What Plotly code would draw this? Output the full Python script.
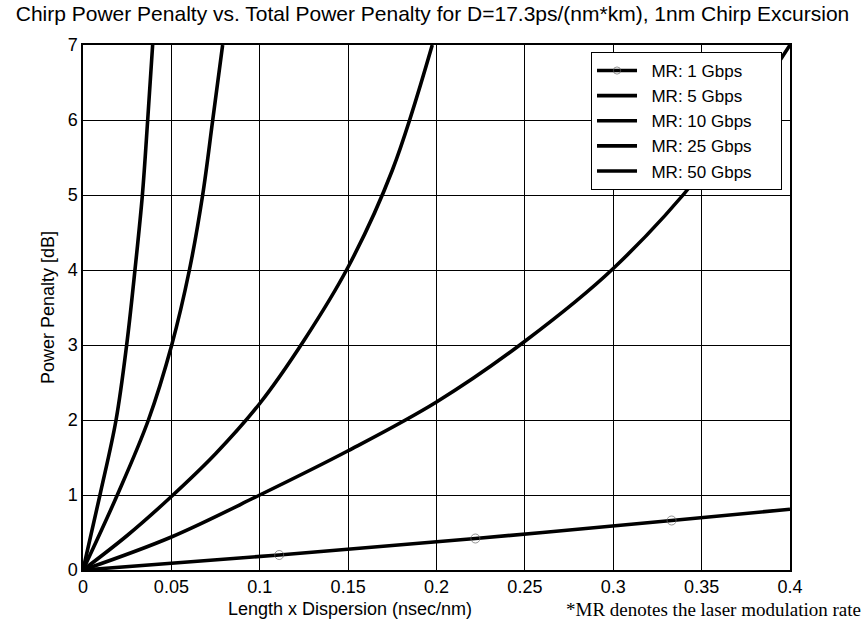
import plotly.graph_objects as go

# Length x Dispersion (nsec/nm) and power penalty (dB) for each modulation rate
x_1g = [0.0, 0.111, 0.222, 0.333, 0.4]
y_1g = [0.0, 0.20, 0.42, 0.66, 0.81]

x_5g = [0.0, 0.05, 0.1, 0.15, 0.2, 0.25, 0.3, 0.35, 0.4]
y_5g = [0.0, 0.44, 1.0, 1.59, 2.24, 3.05, 4.02, 5.3, 7.0]

x_10g = [0.0, 0.025, 0.05, 0.075, 0.1, 0.125, 0.15, 0.175, 0.1976]
y_10g = [0.0, 0.46, 0.98, 1.55, 2.22, 3.06, 4.04, 5.33, 7.0]

x_25g = [0.0, 0.0194, 0.037, 0.0502, 0.0602, 0.0677, 0.0734, 0.079]
y_25g = [0.0, 1.0, 2.0, 3.0, 4.0, 5.0, 6.0, 7.0]

x_50g = [0.0, 0.0096, 0.0187, 0.0247, 0.0294, 0.0336, 0.0366, 0.0394]
y_50g = [0.0, 1.0, 2.0, 3.0, 4.0, 5.0, 6.0, 7.0]

series_names = ["MR: 1 Gbps", "MR: 5 Gbps", "MR: 10 Gbps", "MR: 25 Gbps", "MR: 50 Gbps"]

x_ticks = [0, 0.05, 0.1, 0.15, 0.2, 0.25, 0.3, 0.35, 0.4]
x_tick_text = ["0", "0.05", "0.1", "0.15", "0.2", "0.25", "0.3", "0.35", "0.4"]
y_ticks = [0, 1, 2, 3, 4, 5, 6, 7]

FONT = "Liberation Sans, Arial, sans-serif"
SERIF = "Liberation Serif, Times New Roman, serif"
LW = 3.6
NB = "\u00a0"


def legend_label(name):
    # pad legend text with non-breaking spaces for a wider box
    return NB * 2 + name + NB * 5


fig = go.Figure()

fig.add_trace(go.Scatter(
    x=x_1g, y=y_1g, name=legend_label(series_names[0]), mode="lines+markers",
    line=dict(color="black", width=LW, shape="spline"),
    marker=dict(symbol="circle-open", size=[9, 9, 9, 9, 0], color="#666666",
                line=dict(width=1)),
))
for xs, ys, label in [
    (x_5g, y_5g, series_names[1]),
    (x_10g, y_10g, series_names[2]),
    (x_25g, y_25g, series_names[3]),
    (x_50g, y_50g, series_names[4]),
]:
    fig.add_trace(go.Scatter(
        x=xs, y=ys, name=legend_label(label), mode="lines",
        line=dict(color="black", width=LW, shape="spline", smoothing=1.0),
    ))

axis_common = dict(
    showgrid=True, gridcolor="black", gridwidth=1,
    showline=True, linecolor="black", linewidth=1.5, mirror=True,
    zeroline=False, ticks="", tickfont=dict(family=FONT, size=18, color="black"),
)

fig.update_xaxes(range=[0, 0.4], tickvals=x_ticks, ticktext=x_tick_text, **axis_common)
fig.update_yaxes(range=[0, 7], tickvals=y_ticks, **axis_common,
                 title=dict(text="Power Penalty [dB]", font=dict(family=FONT, size=18, color="black"),
                            standoff=8))

fig.update_layout(
    width=865, height=632,
    margin=dict(l=83, r=75, t=45, b=62),
    paper_bgcolor="white", plot_bgcolor="white",
    showlegend=True,
    legend=dict(
        x=0.9887, y=0.9867, xanchor="right", yanchor="top",
        bgcolor="white", bordercolor="black", borderwidth=1,
        font=dict(family=FONT, size=17, color="black"),
        tracegroupgap=0, itemwidth=40,
    ),
    title=dict(
        text="Chirp Power Penalty vs. Total Power Penalty for D=17.3ps/(nm*km), 1nm Chirp Excursion",
        x=0.5, xanchor="center", y=0.978, yanchor="middle",
        font=dict(family=FONT, size=21, color="black"),
    ),
    annotations=[
        dict(text="Length x Dispersion (nsec/nm)", xref="paper", yref="paper",
             x=0.378, y=-0.075, xanchor="center", yanchor="middle", showarrow=False,
             font=dict(family=FONT, size=18, color="black")),
        dict(text="*MR denotes the laser modulation rate", xref="paper", yref="paper",
             x=1.103, y=-0.075, xanchor="right", yanchor="middle", showarrow=False,
             font=dict(family=SERIF, size=19, color="black")),
    ],
)

fig.write_html("out.html")
